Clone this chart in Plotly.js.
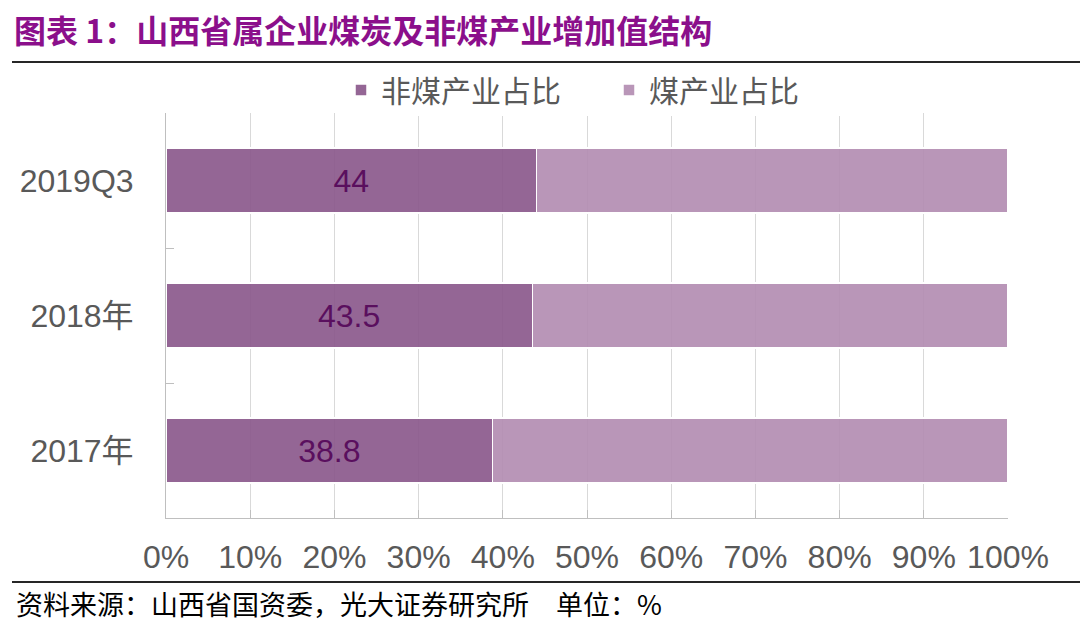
<!DOCTYPE html>
<html>
<head>
<meta charset="utf-8">
<script src="https://cdn.plot.ly/plotly-3.0.1.min.js"></script>
<style>html,body{margin:0;padding:0;background:#fff;}#chart{width:1080px;height:625px;}</style>
</head>
<body>
<div id="chart"></div>
<script>
const categories = ["2017年", "2018年", "2019Q3"];
const nonCoalShare = [38.8, 43.5, 44];
const coalShare = [61.2, 56.5, 56];
const nonCoalLabels = ["38.8", "43.5", "44"];
const xTickValues = [0, 10, 20, 30, 40, 50, 60, 70, 80, 90, 100];
const xTickLabels = ["0%", "10%", "20%", "30%", "40%", "50%", "60%", "70%", "80%", "90%", "100%"];
const seriesNames = ["非煤产业占比", "煤产业占比"];
const titleText = "图表 1：山西省属企业煤炭及非煤产业增加值结构";
const sourceText = "资料来源：山西省国资委，光大证券研究所　单位：%";

const CJK = '"Noto Sans CJK SC", "Liberation Sans", sans-serif';
const LAT = '"Liberation Sans", Arial, "Noto Sans CJK SC", sans-serif';

const traces = [
  {
    type: 'bar', orientation: 'h', name: seriesNames[0],
    y: categories, x: nonCoalShare,
    text: nonCoalLabels, textposition: 'inside', insidetextanchor: 'middle',
    textfont: {family: LAT, size: 32, color: '#5A0F5E'},
    marker: {color: 'rgba(136,85,138,0.9)', line: {color: '#ffffff', width: 1.5}},
    hoverinfo: 'skip'
  },
  {
    type: 'bar', orientation: 'h', name: seriesNames[1],
    y: categories, x: coalShare,
    marker: {color: 'rgba(177,139,176,0.9)', line: {color: '#ffffff', width: 1.5}},
    hoverinfo: 'skip'
  }
];

const L = 166, R = 1008, T = 113, B = 518;
const W = R - L, H = B - T;
const px = v => (v - L) / W;
const py = v => (B - v) / H;

const layout = {
  width: 1080, height: 625,
  margin: {l: L, r: 1080 - R, t: T, b: 625 - B, pad: 0},
  paper_bgcolor: '#ffffff', plot_bgcolor: '#ffffff',
  barmode: 'stack', bargap: 0.52,
  showlegend: true,
  legend: {
    orientation: 'h', x: px(341), xanchor: 'left', y: py(90), yanchor: 'middle',
    font: {family: CJK, size: 30, color: '#595959'},
    traceorder: 'normal', entrywidth: 223, entrywidthmode: 'pixels'
  },
  title: {
    text: '<b>' + titleText + '</b>',
    x: 14 / 1080, xanchor: 'left', xref: 'container',
    y: 1 - 32 / 625, yanchor: 'middle', yref: 'container',
    font: {family: CJK, size: 32, color: '#8B0F8B'}
  },
  xaxis: {
    range: [0, 100], tickvals: xTickValues, ticktext: xTickLabels,
    showgrid: true, gridcolor: '#d9d9d9', gridwidth: 1,
    zeroline: false,
    showline: true, linecolor: '#bfbfbf', linewidth: 1,
    ticks: 'inside', ticklen: 8, tickcolor: '#bfbfbf',
    tickfont: {family: LAT, size: 32, color: '#595959'},
    ticklabelstandoff: 11,
    fixedrange: true
  },
  yaxis: {
    type: 'category', categoryorder: 'array', categoryarray: categories,
    showgrid: false, zeroline: false,
    showline: true, linecolor: '#bfbfbf', linewidth: 1,
    ticks: 'inside', tickson: 'boundaries', ticklen: 8, tickcolor: '#bfbfbf',
    tickfont: {family: LAT, size: 32, color: '#595959'},
    ticklabelstandoff: 25,
    fixedrange: true
  },
  shapes: [
    {type: 'line', xref: 'paper', yref: 'paper', x0: px(12), x1: px(1080), y0: py(62), y1: py(62),
     line: {color: '#262626', width: 2}},
    {type: 'line', xref: 'paper', yref: 'paper', x0: px(12), x1: px(1080), y0: py(582), y1: py(582),
     line: {color: '#262626', width: 2}}
  ],
  annotations: [
    {text: sourceText, xref: 'paper', yref: 'paper', x: px(14), y: py(603), xanchor: 'left', yanchor: 'middle',
     showarrow: false, font: {family: CJK, size: 27, color: '#000000'}}
  ]
};

Plotly.newPlot('chart', traces, layout, {displayModeBar: false, staticPlot: true});
</script>
</body>
</html>
